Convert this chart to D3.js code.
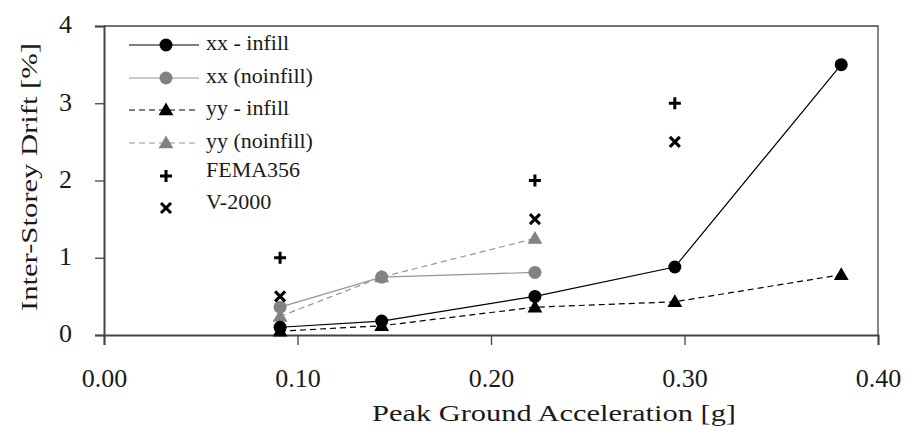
<!DOCTYPE html>
<html>
<head>
<meta charset="utf-8">
<script src="https://cdn.jsdelivr.net/npm/d3@7"></script>
<style>
  html, body { margin: 0; padding: 0; background: #fff; }
  svg { display: block; }
  svg text { font-family: "Liberation Serif", "DejaVu Serif", serif; fill: #1a1a1a; }
</style>
</head>
<body>
<svg id="chart" width="906" height="428"></svg>
<script>
// Peak ground acceleration of each analysis [g]
const pga = [0.091, 0.1435, 0.2227, 0.295, 0.381];

// Inter-storey drift [%] per series
const xxInfill   = [0.10, 0.18, 0.50, 0.88, 3.50];
const xxNoinfill = [0.36, 0.75, 0.81];
const yyInfill   = [0.05, 0.12, 0.36, 0.43, 0.78];
const yyNoinfill = [0.24, 0.75, 1.25];

// Code limits
const femaPga    = [0.091, 0.2227, 0.295];
const fema356    = [1.0, 2.0, 3.0];
const v2000Pga   = [0.091, 0.2227, 0.295];
const v2000      = [0.5, 1.5, 2.5];

const xTicks = [0.0, 0.1, 0.2, 0.3, 0.4];
const yTicks = [0, 1, 2, 3, 4];

const svg = d3.select("#chart");
const margin = { left: 104, right: 28, top: 26, bottom: 93 };
const W = 906, H = 428;

const x = d3.scaleLinear().domain([0, 0.4]).range([margin.left, W - margin.right]);
const y = d3.scaleLinear().domain([0, 4]).range([H - margin.bottom, margin.top]);

const axisColor = "#444";
const gray = "#828282";

// frame (top and right)
svg.append("path")
  .attr("d", `M${x(0)},${y(4)}H${x(0.4)}V${y(0)}`)
  .attr("fill", "none").attr("stroke", axisColor).attr("stroke-width", 1.3);

// axes
const xAxis = svg.append("g")
  .attr("transform", `translate(0,${y(0)})`)
  .call(d3.axisBottom(x).tickValues(xTicks).tickFormat(d3.format(".2f")).tickSize(10));
const yAxis = svg.append("g")
  .attr("transform", `translate(${x(0)},0)`)
  .call(d3.axisLeft(y).tickValues(yTicks).tickFormat(d3.format("d")).tickSize(9).tickPadding(23));

[xAxis, yAxis].forEach(g => {
  g.attr("font-family", null);
  g.select(".domain").attr("stroke", axisColor).attr("stroke-width", 2);
  g.selectAll(".tick line").attr("stroke", axisColor).attr("stroke-width", 1.3);
  g.selectAll(".tick text").attr("font-size", 26).attr("fill", "#1a1a1a");
});
xAxis.selectAll(".tick text").attr("y", 52).attr("dy", 0);
yAxis.selectAll(".tick text").attr("dy", "0.26em");

// axis titles
svg.append("text")
  .attr("x", 554).attr("y", 421)
  .attr("text-anchor", "middle").attr("font-size", 24)
  .attr("textLength", 364).attr("lengthAdjust", "spacingAndGlyphs")
  .text("Peak  Ground Acceleration [g]");
svg.append("text")
  .attr("transform", `translate(37,177) rotate(-90)`)
  .attr("text-anchor", "middle").attr("font-size", 24)
  .attr("textLength", 268).attr("lengthAdjust", "spacingAndGlyphs")
  .text("Inter-Storey Drift [%]");

const line = d3.line().x(d => x(d[0])).y(d => y(d[1]));
const zip = (xs, ys) => ys.map((v, i) => [xs[i], v]);

const series = [
  { name: "xx - infill",     data: zip(pga, xxInfill),   color: "#000", lineColor: "#000",    dash: null,  marker: "circle"   },
  { name: "xx (noinfill)",   data: zip(pga, xxNoinfill), color: gray,   lineColor: "#959595", dash: null,  marker: "circle"   },
  { name: "yy - infill",     data: zip(pga, yyInfill),   color: "#000", lineColor: "#000",    dash: "6,4", marker: "triangle" },
  { name: "yy (noinfill)",   data: zip(pga, yyNoinfill), color: gray,   lineColor: "#959595", dash: "6,4", marker: "triangle" }
];

const triSym = d3.symbol().type(d3.symbolTriangle).size(95);

function drawMarker(g, type, cx, cy, color) {
  if (type === "circle") {
    g.append("circle").attr("cx", cx).attr("cy", cy).attr("r", 6.5).attr("fill", color);
  } else if (type === "triangle") {
    g.append("path").attr("d", triSym()).attr("transform", `translate(${cx},${cy + 1})`).attr("fill", color);
  } else if (type === "plus") {
    g.append("path").attr("d", `M${cx - 6},${cy}H${cx + 6}M${cx},${cy - 6}V${cy + 6}`)
      .attr("stroke", "#000").attr("stroke-width", 3).attr("fill", "none");
  } else if (type === "cross") {
    g.append("path").attr("d", `M${cx - 5},${cy - 5}L${cx + 5},${cy + 5}M${cx - 5},${cy + 5}L${cx + 5},${cy - 5}`)
      .attr("stroke", "#000").attr("stroke-width", 3).attr("fill", "none");
  }
}

const plot = svg.append("g");
// lines first (gray under black)
[series[1], series[3], series[0], series[2]].forEach(s => {
  plot.append("path").attr("d", line(s.data))
    .attr("fill", "none").attr("stroke", s.lineColor).attr("stroke-width", 1.2)
    .attr("stroke-dasharray", s.dash);
});
// markers
[series[3], series[1], series[2], series[0]].forEach(s => {
  s.data.forEach(d => drawMarker(plot, s.marker, x(d[0]), y(d[1]), s.color));
});
zip(femaPga, fema356).forEach(d => drawMarker(plot, "plus", x(d[0]), y(d[1])));
zip(v2000Pga, v2000).forEach(d => drawMarker(plot, "cross", x(d[0]), y(d[1])));

// legend
const legend = svg.append("g");
const legendItems = [
  ...series.map(s => ({ name: s.name, s })),
  { name: "FEMA356", marker: "plus" },
  { name: "V-2000", marker: "cross" }
];
const rowY = [45, 78, 110, 143, 176, 208];
legendItems.forEach((it, i) => {
  const ly = rowY[i];
  if (it.s) {
    legend.append("line").attr("x1", 129).attr("x2", 199).attr("y1", ly).attr("y2", ly)
      .attr("stroke", it.s.lineColor).attr("stroke-width", 1.2).attr("stroke-dasharray", it.s.dash);
    drawMarker(legend, it.s.marker, 166, ly, it.s.color);
  } else {
    drawMarker(legend, it.marker, 166, ly);
  }
  legend.append("text").attr("x", 206).attr("y", it.s ? ly + 5 : ly + 1).attr("font-size", 22).text(it.name);
});
</script>
</body>
</html>
